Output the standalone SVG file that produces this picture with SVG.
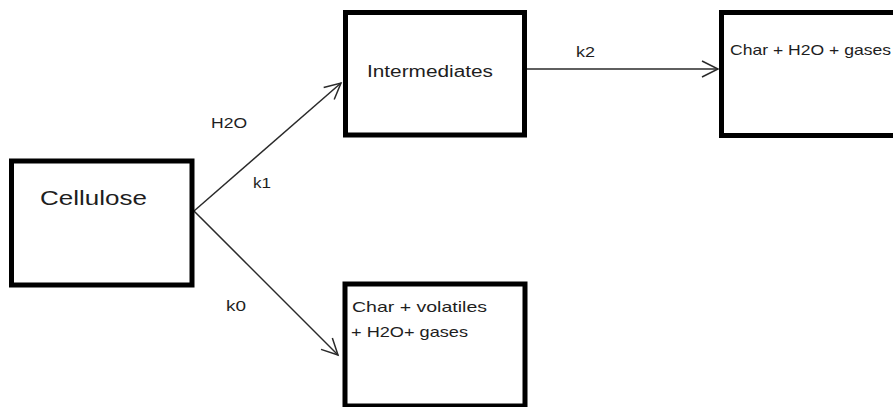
<svg xmlns="http://www.w3.org/2000/svg" width="893" height="407" viewBox="0 0 893 407">
<style>
.box{fill:#fff;stroke:#000;stroke-width:5}
.lbl{font-family:"Liberation Sans",Arial,sans-serif;fill:#1e1e1e}
.edge{stroke:#2a2a2a;stroke-width:1.5;fill:none}
</style>
<defs>
<marker id="arr" markerUnits="userSpaceOnUse" markerWidth="24" markerHeight="24" viewBox="-20 -12 24 24" refX="0" refY="0" orient="auto">
<path d="M-16,-8 L0,0 L-16,8" fill="none" stroke="#2a2a2a" stroke-width="1.5"/>
</marker>
</defs>
<rect width="893" height="407" fill="#fff"/>
<g id="connectors">
<line class="edge" x1="194" y1="211" x2="341" y2="83" marker-end="url(#arr)"/>
<line class="edge" x1="194" y1="211" x2="338" y2="355" marker-end="url(#arr)"/>
<line class="edge" x1="527" y1="69" x2="718" y2="69" marker-end="url(#arr)"/>
<text class="lbl" x="211" y="128" font-size="15" textLength="36" lengthAdjust="spacingAndGlyphs">H2O</text>
<text class="lbl" x="253" y="188" font-size="15" textLength="18" lengthAdjust="spacingAndGlyphs">k1</text>
<text class="lbl" x="576" y="57" font-size="15" textLength="19" lengthAdjust="spacingAndGlyphs">k2</text>
<text class="lbl" x="226" y="311" font-size="15" textLength="20" lengthAdjust="spacingAndGlyphs">k0</text>
</g>
<g id="cellulose">
<rect class="box" x="11.5" y="161" width="180.5" height="124"/>
<text class="lbl" x="40" y="205" font-size="21" textLength="107" lengthAdjust="spacingAndGlyphs">Cellulose</text>
</g>
<g id="intermediates">
<rect class="box" x="345.5" y="12.5" width="179" height="122.5"/>
<text class="lbl" x="367" y="77" font-size="16" textLength="126" lengthAdjust="spacingAndGlyphs">Intermediates</text>
</g>
<g id="char-h2o-gases">
<rect class="box" x="721.5" y="12.5" width="200" height="123"/>
<text class="lbl" x="730" y="55" font-size="15" textLength="161" lengthAdjust="spacingAndGlyphs">Char + H2O + gases</text>
</g>
<g id="char-volatiles">
<rect class="box" x="345" y="284" width="180" height="122"/>
<text class="lbl" x="352" y="312" font-size="15" textLength="135" lengthAdjust="spacingAndGlyphs">Char + volatiles</text>
<text class="lbl" x="351" y="337" font-size="15" textLength="117" lengthAdjust="spacingAndGlyphs">+ H2O+ gases</text>
</g>
</svg>
